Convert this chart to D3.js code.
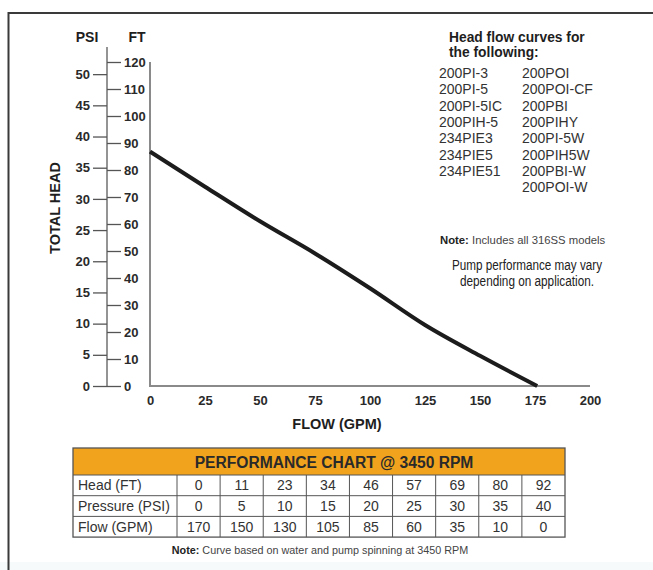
<!DOCTYPE html>
<html>
<head>
<meta charset="utf-8">
<script src="https://cdn.jsdelivr.net/npm/d3@7"></script>
<style>
  html, body { margin: 0; padding: 0; background: #fff; }
  svg { display: block; font-family: "Liberation Sans", Arial, sans-serif; }
</style>
</head>
<body>
<svg id="chart"></svg>
<script>
const width = 653;
const height = 570;

// curve: flow (GPM) vs head (FT)
const curveFlow = [0, 25, 50, 75, 100, 125, 150, 176];
const curveHead = [86.8, 73.8, 61.0, 49.1, 36.2, 22.6, 11.2, 0];

const xTicks = [0, 25, 50, 75, 100, 125, 150, 175, 200];
const ftTicks = [0, 10, 20, 30, 40, 50, 60, 70, 80, 90, 100, 110, 120];
const psiTicks = [0, 5, 10, 15, 20, 25, 30, 35, 40, 45, 50];

const modelsLeft = ['200PI-3', '200PI-5', '200PI-5IC', '200PIH-5', '234PIE3', '234PIE5', '234PIE51'];
const modelsRight = ['200POI', '200POI-CF', '200PBI', '200PIHY', '200PI-5W', '200PIH5W', '200PBI-W', '200POI-W'];

const rowLabels = ['Head (FT)', 'Pressure (PSI)', 'Flow (GPM)'];
const headFt = [0, 11, 23, 34, 46, 57, 69, 80, 92];
const pressurePsi = [0, 5, 10, 15, 20, 25, 30, 35, 40];
const flowGpm = [170, 150, 130, 105, 85, 60, 35, 10, 0];

const svg = d3.select('#chart')
  .attr('width', width)
  .attr('height', height);

// faint tint along the bottom edge
svg.append('rect')
  .attr('x', 0).attr('y', 562)
  .attr('width', width).attr('height', height - 562)
  .attr('fill', '#f6fafa');

// frame
svg.append('path')
  .attr('d', `M8.5,${height} V13 H${width}`)
  .attr('fill', 'none')
  .attr('stroke', '#3a3a3a')
  .attr('stroke-width', 2);

const x = d3.scaleLinear().domain([0, 200]).range([150, 590]);
const y = d3.scaleLinear().domain([0, 120]).range([386, 62]);
const yPsi = d3.scaleLinear().domain([0, 120 / 2.31]).range([386, 62]);

// plot frame (left + bottom)
svg.append('path')
  .attr('d', `M${x(0)},${y(120)} V${y(0)} H${x(200)}`)
  .attr('fill', 'none')
  .attr('stroke', '#8a8a8a')
  .attr('stroke-width', 2);

// x axis labels
const xAxis = svg.append('g')
  .attr('transform', `translate(0,${y(0) + 10})`)
  .call(d3.axisBottom(x).tickValues(xTicks).tickSize(0).tickPadding(0));
xAxis.select('.domain').remove();
xAxis.selectAll('text')
  .attr('font-family', '"Liberation Sans", Arial, sans-serif')
  .attr('font-size', 13)
  .attr('font-weight', 'bold')
  .attr('fill', '#2a2a2a');

// dual head axis
const axisX = 107;
svg.append('line')
  .attr('x1', axisX).attr('x2', axisX)
  .attr('y1', 47).attr('y2', y(0))
  .attr('stroke', '#707070')
  .attr('stroke-width', 1.5);

const ftAxis = svg.append('g')
  .attr('transform', `translate(${axisX},0)`)
  .call(d3.axisRight(y).tickValues(ftTicks).tickSize(14).tickPadding(3));
const psiAxis = svg.append('g')
  .attr('transform', `translate(${axisX},0)`)
  .call(d3.axisLeft(yPsi).tickValues(psiTicks).tickSize(14).tickPadding(3));

[ftAxis, psiAxis].forEach(g => {
  g.select('.domain').remove();
  g.selectAll('.tick line').attr('stroke', '#555').attr('stroke-width', 1.3);
  g.selectAll('text')
    .attr('font-family', '"Liberation Sans", Arial, sans-serif')
    .attr('font-size', 13)
    .attr('font-weight', 'bold')
    .attr('fill', '#2a2a2a');
});

// axis titles
const bold = (sel, size) => sel
  .attr('font-size', size)
  .attr('font-weight', 'bold')
  .attr('fill', '#1e1e1e');

bold(svg.append('text').attr('x', 87).attr('y', 42).attr('text-anchor', 'middle').text('PSI'), 14);
bold(svg.append('text').attr('x', 137).attr('y', 42).attr('text-anchor', 'middle').text('FT'), 14);
bold(svg.append('text').attr('x', 337).attr('y', 429).attr('text-anchor', 'middle').text('FLOW (GPM)'), 14.5);
bold(svg.append('text')
  .attr('transform', 'translate(60,208) rotate(-90)')
  .attr('text-anchor', 'middle')
  .text('TOTAL HEAD'), 14.5);

// curve
const line = d3.line()
  .x((d, i) => x(curveFlow[i]))
  .y(d => y(d))
  .curve(d3.curveMonotoneX);

svg.append('path')
  .datum(curveHead)
  .attr('d', line)
  .attr('fill', 'none')
  .attr('stroke', '#1c1c1c')
  .attr('stroke-width', 4)
  .attr('stroke-linecap', 'butt');

// models list
bold(svg.append('text').attr('x', 449).attr('y', 42).text('Head flow curves for'), 13.8);
bold(svg.append('text').attr('x', 449).attr('y', 57).text('the following:'), 13.8);

const rowY = d3.scaleLinear().domain([0, 1]).range([78, 94.3]);
svg.append('g').selectAll('text')
  .data(modelsLeft)
  .enter().append('text')
  .attr('x', 439)
  .attr('y', (d, i) => rowY(i))
  .attr('font-size', 14)
  .attr('fill', '#333')
  .text(d => d);
svg.append('g').selectAll('text')
  .data(modelsRight)
  .enter().append('text')
  .attr('x', 522)
  .attr('y', (d, i) => rowY(i))
  .attr('font-size', 14)
  .attr('fill', '#333')
  .text(d => d);

const note1 = svg.append('text')
  .attr('x', 440).attr('y', 244)
  .attr('font-size', 11.3)
  .attr('fill', '#444');
note1.append('tspan').attr('font-weight', 'bold').attr('fill', '#222').text('Note:');
note1.append('tspan').text(' Includes all 316SS models');

[['Pump performance may vary', 150], ['depending on application.', 134]].forEach(([t, w], i) => {
  svg.append('text')
    .attr('x', 527 - w / 2).attr('y', 270 + i * 16)
    .attr('font-size', 14)
    .attr('fill', '#222')
    .attr('textLength', w)
    .attr('lengthAdjust', 'spacingAndGlyphs')
    .text(t);
});

// performance table
const tLeft = 73, tRight = 565, labelW = 104;
const tTop = 448, headerH = 27, rowH = 20.7;
const col = d3.scaleBand().domain(d3.range(headFt.length)).range([tLeft + labelW, tRight]);
const rows = [headFt, pressurePsi, flowGpm];
const tBottom = tTop + headerH + rowH * rows.length;

svg.append('rect')
  .attr('x', tLeft).attr('y', tTop)
  .attr('width', tRight - tLeft).attr('height', headerH)
  .attr('fill', '#F2A31E');
bold(svg.append('text')
  .attr('x', 334).attr('y', tTop + headerH / 2 + 6)
  .attr('text-anchor', 'middle')
  .text('PERFORMANCE CHART @ 3450 RPM'), 15.6).attr('fill', '#2a2a2a');

const table = svg.append('g');
rows.forEach((vals, r) => {
  const ry = tTop + headerH + r * rowH;
  table.append('text')
    .attr('x', tLeft + 5).attr('y', ry + rowH / 2 + 5)
    .attr('font-size', 14)
    .attr('fill', '#333')
    .text(rowLabels[r]);
  table.selectAll(null)
    .data(vals)
    .enter().append('text')
    .attr('x', (d, i) => col(i) + col.bandwidth() / 2)
    .attr('y', ry + rowH / 2 + 5)
    .attr('text-anchor', 'middle')
    .attr('font-size', 14)
    .attr('fill', '#333')
    .text(d => d);
  table.append('line')
    .attr('x1', tLeft).attr('x2', tRight)
    .attr('y1', ry).attr('y2', ry)
    .attr('stroke', '#555').attr('stroke-width', 1);
});
table.selectAll('.vline')
  .data(d3.range(headFt.length))
  .enter().append('line')
  .attr('x1', i => col(i)).attr('x2', i => col(i))
  .attr('y1', tTop + headerH).attr('y2', tBottom)
  .attr('stroke', '#555').attr('stroke-width', 1);
table.append('rect')
  .attr('x', tLeft).attr('y', tTop)
  .attr('width', tRight - tLeft).attr('height', tBottom - tTop)
  .attr('fill', 'none')
  .attr('stroke', '#555').attr('stroke-width', 1.3);

const note2 = svg.append('text')
  .attr('x', 320).attr('y', 554)
  .attr('text-anchor', 'middle')
  .attr('font-size', 10.8)
  .attr('fill', '#444');
note2.append('tspan').attr('font-weight', 'bold').attr('fill', '#222').text('Note:');
note2.append('tspan').text(' Curve based on water and pump spinning at 3450 RPM');
</script>
</body>
</html>
